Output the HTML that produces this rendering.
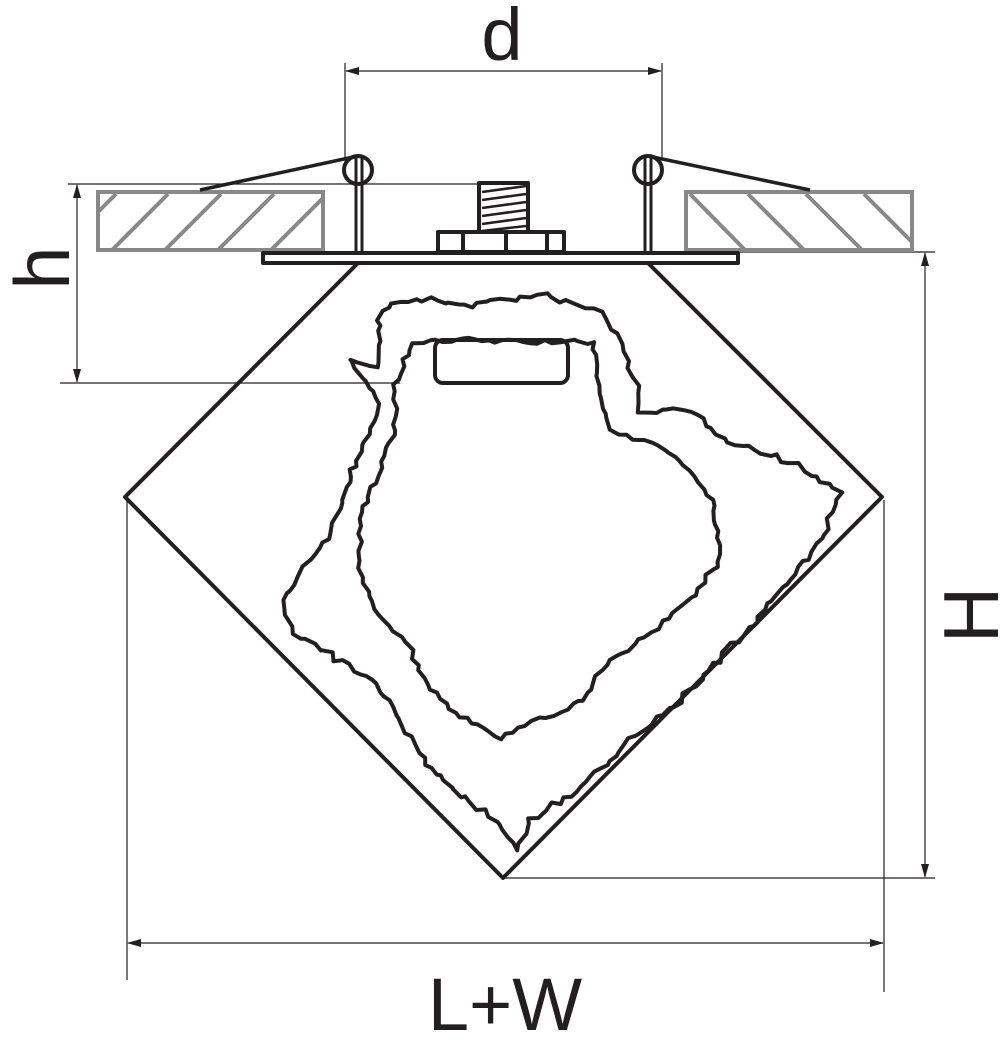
<!DOCTYPE html>
<html><head><meta charset="utf-8"><style>html,body{margin:0;padding:0;background:#fff}svg{display:block}</style></head>
<body>
<svg id="s" width="1000" height="1058" viewBox="0 0 1000 1058" xmlns="http://www.w3.org/2000/svg">
<defs>
<marker id="a" markerWidth="14" markerHeight="8" refX="13" refY="4" orient="auto" markerUnits="userSpaceOnUse"><path d="M0,0 L14,4 L0,8 z" fill="#231f20"/></marker>
</defs>
<g stroke="#231f20" stroke-width="1.2" fill="none">
<line x1="345" y1="63" x2="345" y2="160"/><line x1="662" y1="63" x2="662" y2="160"/>
<line x1="500" y1="71" x2="346" y2="71" marker-end="url(#a)"/>
<line x1="500" y1="71" x2="661" y2="71" marker-end="url(#a)"/>
<line x1="68" y1="184" x2="480" y2="184"/><line x1="60" y1="383" x2="400" y2="383"/>
<line x1="77" y1="280" x2="77" y2="185" marker-end="url(#a)"/>
<line x1="77" y1="280" x2="77" y2="382" marker-end="url(#a)"/>
<line x1="740" y1="252" x2="935" y2="252"/><line x1="503" y1="878" x2="935" y2="878"/>
<line x1="925" y1="560" x2="925" y2="253" marker-end="url(#a)"/>
<line x1="925" y1="560" x2="925" y2="877" marker-end="url(#a)"/>
<line x1="127" y1="500" x2="127" y2="980"/><line x1="884" y1="500" x2="884" y2="992"/>
<line x1="500" y1="943" x2="128" y2="943" marker-end="url(#a)"/>
<line x1="500" y1="943" x2="883" y2="943" marker-end="url(#a)"/>
</g>
<g stroke="#888" stroke-width="4" fill="none">
<rect x="98" y="192" width="225" height="58"/>
<rect x="686" y="192" width="226" height="58"/>
<path d="M112,250 L168,194 M165,250 L221,194 M218,250 L274,194 M271,250 L323,198 M98,212 L116,194"/>
<path d="M690,194 L745,250 M748,194 L804,250 M806,194 L862,250 M864,194 L912,242"/>
</g>
<g stroke="#231f20" stroke-width="4" fill="none" stroke-linejoin="round">
<rect x="263" y="253" width="475" height="10" fill="#fff"/>
<rect x="438" y="232" width="126" height="20"/>
<line x1="463" y1="232" x2="463" y2="252"/><line x1="506" y1="232" x2="506" y2="252"/><line x1="547" y1="232" x2="547" y2="252"/>
<rect x="479" y="183" width="49" height="49"/>
<path d="M482,192 L526,186 M482,200 L526,194 M482,208 L526,202 M482,216 L526,210 M482,224 L526,218 M482,231 L526,226" stroke-width="2.5"/>
<circle cx="358" cy="170" r="14"/><circle cx="648" cy="170" r="14"/>
<path d="M356,156 V255 M362,156 V255 M645,156 V255 M651,156 V255" stroke-width="3"/>
<path d="M358,156 L200,190 M648,156 L810,190" stroke-width="3.5"/>
<path d="M358,263 L125,497 L503,878 L882,497 L648,263"/>
<rect x="435" y="340" width="133" height="43" rx="8"/>
<path id="o"/><path id="i"/>
</g>
<g fill="#231f20" font-family="Liberation Sans, sans-serif">
<text x="502" y="60" font-size="74" text-anchor="middle">d</text>
<text x="505" y="1030" font-size="74" text-anchor="middle">L+W</text>
<text transform="translate(69,268) rotate(-90)" font-size="78" text-anchor="middle">h</text>
<text transform="translate(998,615) rotate(-90)" font-size="78" text-anchor="middle">H</text>
</g>
</svg>
<script>
var seed=7;function r(){seed=(seed*16807)%2147483647;return seed/2147483647-0.5;}
function wob(pts,amp){var d="";for(var k=0;k<pts.length;k++){var p=pts[k],q=pts[(k+1)%pts.length];var n=Math.max(2,Math.round(Math.hypot(q[0]-p[0],q[1]-p[1])/7));for(var j=0;j<n;j++){var t=j/n;var x=p[0]+(q[0]-p[0])*t+r()*amp,y=p[1]+(q[1]-p[1])*t+r()*amp;d+=(d?"L":"M")+x.toFixed(1)+","+y.toFixed(1);}}return d+"Z";}
var outer=[[380,318],[392,302],[430,300],[470,305],[500,300],[545,296],[600,312],[622,345],[635,380],[640,410],[690,412],[730,440],[790,462],[840,492],[820,540],[790,580],[760,615],[720,660],[670,710],[620,750],[575,790],[530,820],[515,850],[495,820],[460,795],[430,770],[400,720],[370,680],[330,655],[295,635],[282,600],[300,570],[330,540],[345,490],[365,440],[378,405],[350,358],[378,368]];
var inner=[[410,343],[470,340],[530,342],[593,342],[600,400],[610,432],[660,445],[690,470],[715,505],[720,560],[690,600],[640,640],[600,670],[585,700],[540,720],[500,738],[460,715],[430,690],[405,640],[375,610],[360,570],[360,520],[380,470],[395,430],[395,385],[405,360]];
document.getElementById("o").setAttribute("d",wob(outer,6));
document.getElementById("i").setAttribute("d",wob(inner,5));
</script>
</body></html>
